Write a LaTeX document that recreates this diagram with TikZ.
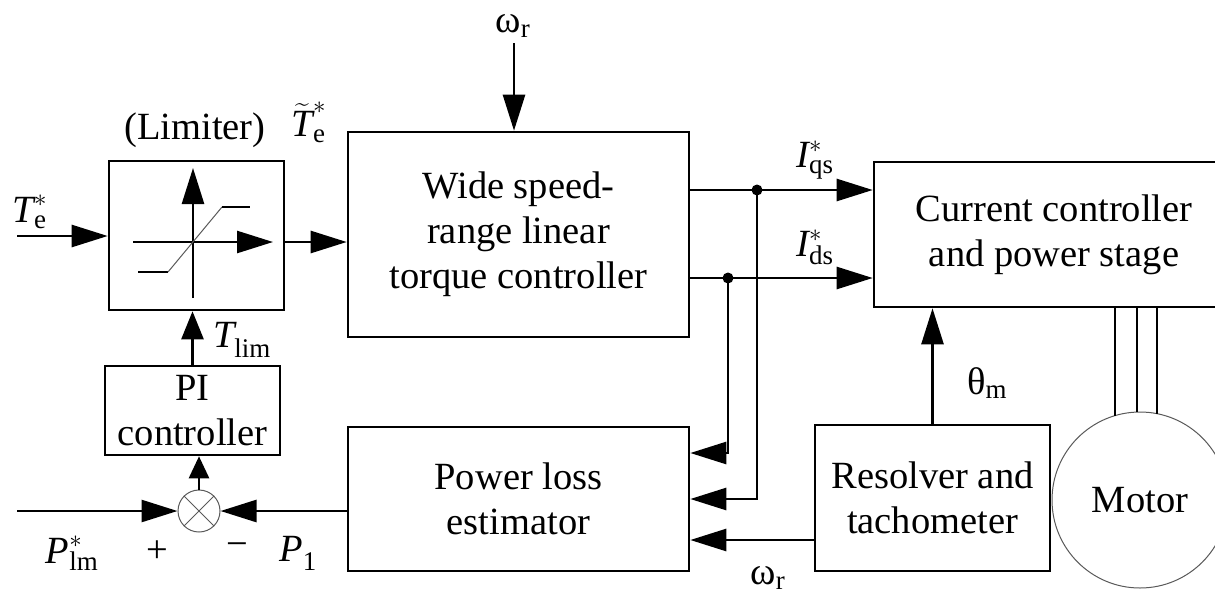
\documentclass[tikz,border=0pt]{standalone}
\usepackage{amsmath}
\usepackage{fontspec}
\setmainfont{Liberation Serif}
\usetikzlibrary{arrows.meta,calc}
\begin{document}
\begin{tikzpicture}[x=1pt,y=-1pt,
  font=\fontsize{38.5}{45}\selectfont,
  lw/.style={line width=2.6pt},
  blk/.style={draw, line width=2.6pt, align=center, inner sep=0pt},
  arr/.style={line width=2.6pt, -{Triangle[length=36pt,width=22pt]}},
  tarr/.style={line width=2.6pt, -{Triangle[length=28pt,width=22pt]}},
  sarr/.style={line width=2.6pt, -{Triangle[length=22pt,width=20pt]}},
  fine/.style={draw=black!65, line width=1pt},
  dot/.style={circle, fill, inner sep=0pt, minimum size=11pt},
  lbl/.style={inner sep=0pt}]
\useasboundingbox (0,0) rectangle (1215,595);
\clip (0,0) rectangle (1215,595);

% blocks
\node[blk, minimum width=175pt, minimum height=149pt] (lim) at (196.5,235.5) {};
\node[blk, minimum width=341pt, minimum height=205pt] (wsr) at (518.5,234.5) {Wide speed-\\range linear\\torque controller};
\node[blk, minimum width=360pt, minimum height=145pt] (cur) at (1054,234.5) {Current controller\\and power stage};
\node[blk, minimum width=175pt, minimum height=89pt] (pi) at (192.5,410.5) {PI\\controller};
\node[fine, circle, minimum size=42pt, inner sep=0pt] (sum) at (199,511) {};
\draw[fine] (sum.north east) -- (sum.south west) (sum.north west) -- (sum.south east);
\node[blk, minimum width=341pt, minimum height=144pt] (ple) at (518.5,499) {Power loss\\estimator};
\node[blk, minimum width=235pt, minimum height=146pt] (res) at (932.5,498) {Resolver and\\tachometer};
\node[fine, circle, minimum size=176pt, inner sep=0pt] (mot) at (1140,500) {Motor};

% limiter characteristic
\draw[arr] (193,298) -- (193,168);
\draw[arr] (133,242) -- (273,242);
\draw[lw] (138,272) -- (168,272);
\draw[fine] (168,272) -- (222,207);
\draw[lw] (222,207) -- (250,207);

% connectors
\coordinate (tin) at (17,236);
\draw[arr] (tin) -- (tin -| lim.west);
\coordinate (lo) at (300,242);
\draw[arr] (lim.east |- lo) -- (wsr.west |- lo);
\coordinate (wtop) at (514,43);
\draw[arr] (wtop) -- (wtop |- wsr.north);
\node[dot] (dq) at (757,190) {};
\node[dot] (dd) at (728,278) {};
\draw[arr] (wsr.east |- dq) -- (cur.west |- dq);
\draw[arr] (wsr.east |- dd) -- (cur.west |- dd);
\coordinate (qsb) at (757,499);
\coordinate (dsb) at (728,453);
\draw[arr] (dq.center) -- (qsb) -- (ple.east |- qsb);
\draw[arr] (dd.center) -- (dsb) -- (ple.east |- dsb);
\coordinate (wr) at (800,540);
\draw[arr] (res.west |- wr) -- (ple.east |- wr);
\draw[arr] (ple.west |- sum) -- (sum.east);
\coordinate (pin) at (17,511);
\draw[arr] (pin) -- (sum.west);
\draw[sarr] (sum.north) -- (sum.north |- pi.south);
\draw[tarr] (pi.north) -- (pi.north |- lim.south);
\draw[arr] (res.north) -- (res.north |- cur.south);
\foreach \x/\y in {1115/415.6,1137/412.1,1157/413.7}
  \draw[lw] (cur.south -| \x,0) -- (\x,\y);

% labels
\node[lbl] (tLim) at (195,130) {(Limiter)};
\node[lbl] (tTt) at (309,122) {$\widetilde{\textit{T}}^{*}_{\text{e}}$};
\node[lbl] (tTe) at (30,212) {$\textit{T}^{*}_{\text{e}}$};
\node[lbl] (tTl) at (242,340) {$\textit{T}_{\text{lim}}$};
\node[lbl] (tIq) at (815,160) {$\textit{I}^{*}_{\text{qs}}$};
\node[lbl] (tId) at (815,247) {$\textit{I}^{*}_{\text{ds}}$};
\node[lbl] (tTh) at (987,383) {$\text{θ}_{\text{m}}$};
\node[lbl] (tW1) at (513,26) {$\text{ω}_{\text{r}}$};
\node[lbl] (tW2) at (768,578) {$\text{ω}_{\text{r}}$};
\node[lbl] (tPl) at (72,553) {$\textit{P}^{*}_{\text{lm}}$};
\node[lbl] (tPlus) at (157,552) {+};
\node[lbl] (tMin) at (237,550) {−};
\node[lbl] (tP1) at (298,553) {$\textit{P}_{\text{1}}$};
\end{tikzpicture}
\end{document}
